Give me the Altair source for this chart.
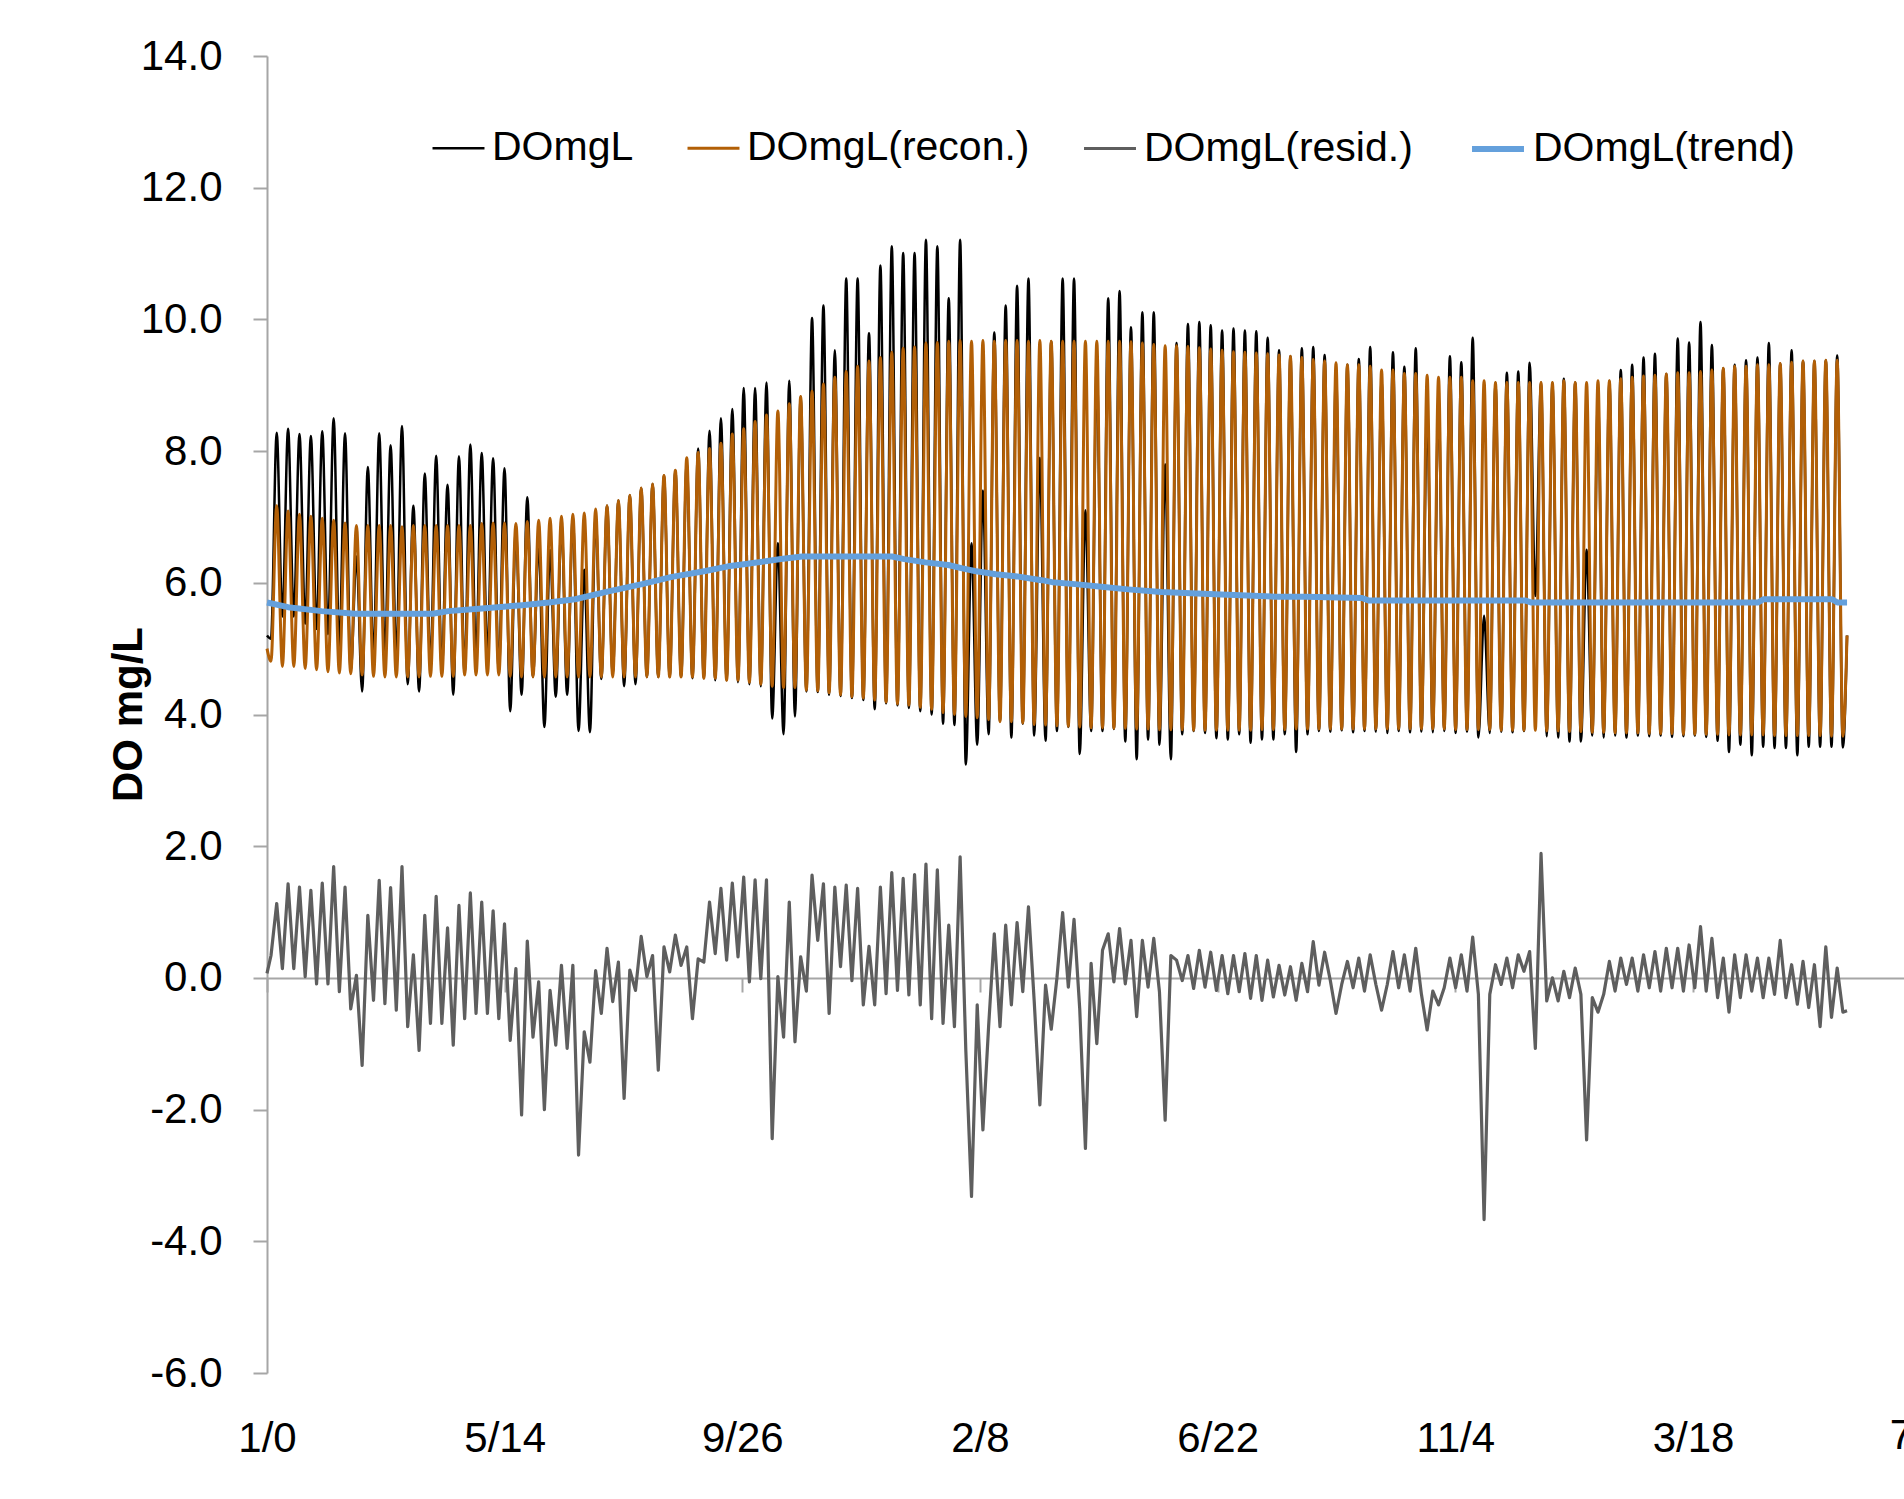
import altair as alt
import pandas as pd

# ---------------- values ----------------
TICK_DAYS = [0, 135, 270, 405, 540, 675, 810, 945]
TICK_LABELS = ["1/0", "5/14", "9/26", "2/8", "6/22", "11/4", "3/18", "7/31"]
Y_TICKS = [-6, -4, -2, 0, 2, 4, 6, 8, 10, 12, 14]

SERIES = ["DOmgL", "DOmgL(recon.)", "DOmgL(resid.)", "DOmgL(trend)"]

# timing of the oscillation (days)
FIRST_PEAK_DAY = 5.51
CYCLE_DAYS = 6.47
LAST_DAY = 897.5

# DOmgL(recon.)  -- one peak and the following trough per cycle
RECON_START, RECON_PRE, RECON_END = 5.00, 4.81, 5.20
RECON_PEAK = [
    7.17, 7.09, 7.04, 7.01, 6.98, 6.95, 6.91, 6.87, 6.87, 6.87, 6.87, 6.85, 6.87, 6.87, 6.87, 6.87, 6.87, 6.87, 6.90, 6.91, 6.91, 6.90,
    6.93, 6.95, 6.98, 7.01, 7.04, 7.06, 7.12, 7.17, 7.25, 7.33, 7.44, 7.50, 7.63, 7.71, 7.90, 7.98, 8.04, 8.12, 8.26, 8.34, 8.45, 8.55, 8.61,
    8.72, 8.83, 8.91, 9.02, 9.12, 9.21, 9.29, 9.37, 9.42, 9.50, 9.56, 9.58, 9.64, 9.65, 9.67, 9.68, 9.67, 9.68, 9.67, 9.68, 9.68, 9.67, 9.68,
    9.67, 9.67, 9.67, 9.67, 9.67, 9.67, 9.67, 9.66, 9.64, 9.62, 9.60, 9.60, 9.59, 9.57, 9.55, 9.53, 9.51, 9.50, 9.49, 9.48, 9.46, 9.44, 9.42,
    9.39, 9.37, 9.34, 9.31, 9.31, 9.29, 9.23, 9.23, 9.18, 9.18, 9.15, 9.12, 9.12, 9.12, 9.07, 9.07, 9.04, 9.04, 9.04, 9.04, 9.04, 9.04, 9.07,
    9.04, 9.04, 9.07, 9.07, 9.10, 9.12, 9.14, 9.15, 9.17, 9.19, 9.19, 9.21, 9.23, 9.26, 9.29, 9.29, 9.31, 9.31, 9.33, 9.35, 9.37, 9.37, 9.38, 9.38,
]
RECON_TROUGH = [
    4.73, 4.73, 4.70, 4.68, 4.65, 4.63, 4.62, 4.60, 4.58, 4.57, 4.57, 4.57, 4.57, 4.58, 4.58, 4.58, 4.60, 4.60, 4.60, 4.60, 4.58, 4.57,
    4.57, 4.57, 4.57, 4.57, 4.57, 4.57, 4.57, 4.57, 4.57, 4.57, 4.57, 4.57, 4.57, 4.57, 4.57, 4.55, 4.55, 4.52, 4.52, 4.49, 4.46, 4.43, 4.41,
    4.41, 4.37, 4.36, 4.33, 4.30, 4.27, 4.25, 4.22, 4.19, 4.16, 4.14, 4.11, 4.08, 4.03, 4.00, 3.97, 3.95, 3.92, 3.89, 3.89, 3.87, 3.85, 3.84,
    3.83, 3.82, 3.81, 3.80, 3.80, 3.79, 3.79, 3.78, 3.78, 3.77, 3.77, 3.77, 3.76, 3.76, 3.76, 3.76, 3.76, 3.76, 3.77, 3.77, 3.77, 3.78, 3.78,
    3.78, 3.78, 3.78, 3.78, 3.78, 3.78, 3.78, 3.78, 3.78, 3.78, 3.78, 3.78, 3.77, 3.77, 3.77, 3.77, 3.76, 3.76, 3.76, 3.76, 3.75, 3.75, 3.74,
    3.74, 3.73, 3.73, 3.72, 3.72, 3.72, 3.71, 3.71, 3.71, 3.70, 3.70, 3.70, 3.70, 3.69, 3.69, 3.69, 3.69, 3.68, 3.68, 3.68, 3.68, 3.68, 3.67, 3.67,
]

# DOmgL (observed)
OBS_START, OBS_PRE, OBS_END = 5.20, 5.15, 5.20
OBS_PEAK = [
    8.28, 8.34, 8.26, 8.23, 8.30, 8.50, 8.27, 6.40, 7.76, 8.27, 8.09, 8.38, 7.17, 7.66, 7.93, 7.49, 7.92, 8.10, 7.97, 7.89, 7.74, 6.80,
    7.30, 6.60, 6.50, 6.90, 7.00, 6.20, 7.00, 7.17, 7.25, 7.33, 7.44, 7.50, 7.63, 7.71, 7.82, 8.04, 8.31, 8.50, 8.64, 8.96, 8.96, 9.04, 6.60,
    9.07, 8.83, 10.02, 10.21, 9.53, 10.62, 10.62, 9.79, 10.82, 11.11, 11.01, 11.01, 11.21, 11.11, 10.32, 11.21, 6.60, 7.40, 9.80, 10.21, 10.51, 10.62, 7.90,
    9.67, 10.62, 10.62, 7.10, 9.30, 10.32, 10.43, 9.88, 10.11, 10.11, 7.80, 9.64, 9.93, 9.96, 9.91, 9.83, 9.86, 9.83, 9.82, 9.72, 9.53, 9.44, 9.56,
    9.58, 9.46, 9.20, 9.31, 9.40, 9.58, 9.10, 9.50, 9.28, 9.56, 8.60, 8.80, 9.44, 9.35, 9.72, 5.50, 9.04, 9.19, 9.21, 9.34, 9.04, 9.04, 9.10,
    9.04, 6.50, 8.80, 9.07, 9.23, 9.31, 9.42, 9.48, 9.17, 9.71, 9.65, 9.96, 9.61, 9.26, 9.31, 9.38, 9.42, 9.64, 9.33, 9.53, 9.37, 9.37, 9.38, 9.45,
]
OBS_TROUGH = [
    5.49, 5.49, 5.38, 5.30, 5.22, 5.00, 4.65, 4.35, 4.84, 4.89, 4.84, 4.46, 4.35, 4.73, 4.68, 4.30, 4.62, 4.87, 4.87, 4.65, 4.05, 4.30,
    4.57, 3.81, 4.27, 4.30, 3.75, 3.73, 4.54, 4.62, 4.43, 4.46, 4.57, 4.57, 4.57, 4.57, 4.55, 4.55, 4.52, 4.52, 4.49, 4.46, 4.43, 3.94, 3.70,
    3.97, 4.35, 4.34, 4.30, 4.28, 4.25, 4.22, 4.08, 4.17, 4.14, 4.10, 4.05, 4.00, 3.86, 3.84, 3.24, 3.54, 3.70, 3.90, 3.65, 3.86, 3.68, 3.60,
    3.75, 3.81, 3.40, 3.75, 3.75, 3.78, 3.59, 3.32, 3.62, 3.54, 3.32, 3.70, 3.75, 3.72, 3.64, 3.62, 3.70, 3.57, 3.62, 3.62, 3.70, 3.43, 3.70,
    3.75, 3.74, 3.76, 3.73, 3.75, 3.74, 3.72, 3.75, 3.73, 3.74, 3.73, 3.75, 3.72, 3.74, 3.65, 3.72, 3.74, 3.73, 3.75, 5.80, 3.67, 3.65, 3.59,
    3.59, 3.68, 3.65, 3.68, 3.65, 3.68, 3.67, 3.68, 3.66, 3.67, 3.68, 3.66, 3.60, 3.43, 3.54, 3.38, 3.51, 3.49, 3.49, 3.38, 3.51, 3.51, 3.51, 3.50,
]

# DOmgL(resid.)
RESID_START, RESID_PRE, RESID_END = 0.07, 0.34, -0.50
RESID_PEAK = [
    1.13, 1.43, 1.38, 1.33, 1.44, 1.69, 1.38, 0.04, 0.95, 1.48, 1.37, 1.69, 0.35, 0.95, 1.24, 0.76, 1.10, 1.29, 1.15, 1.02, 0.82, 0.14,
    0.56, -0.06, -0.19, 0.19, 0.19, -0.82, 0.11, 0.45, 0.24, 0.12, 0.63, 0.34, 0.47, 0.65, 0.47, 0.29, 1.15, 1.36, 1.44, 1.53, 1.49, 1.49, 0.02,
    1.15, 0.32, 1.56, 1.43, 1.38, 1.41, 1.36, 0.48, 1.38, 1.60, 1.51, 1.57, 1.73, 1.64, 0.80, 1.84, -3.32, -2.31, 0.67, 0.80, 0.84, 1.08, -1.93,
    -0.78, 0.99, 0.89, -2.59, -1.00, 0.67, 0.75, 0.57, 0.57, 0.60, -2.16, 0.27, 0.34, 0.42, 0.39, 0.34, 0.34, 0.37, 0.34, 0.27, 0.19, 0.17, 0.22,
    0.55, 0.39, -0.54, 0.25, 0.30, 0.35, -0.49, 0.40, 0.35, 0.45, -0.79, -0.41, 0.30, 0.35, 0.62, -3.67, 0.20, 0.30, 0.35, 0.40, 1.89, 0.00, 0.10,
    0.15, -2.46, -0.52, 0.25, 0.30, 0.30, 0.35, 0.40, 0.45, 0.45, 0.50, 0.78, 0.60, 0.30, 0.35, 0.35, 0.30, 0.30, 0.57, 0.20, 0.25, 0.20, 0.47, 0.15,
]
RESID_TROUGH = [
    0.14, 0.14, 0.02, -0.09, -0.09, -0.21, -0.47, -1.33, -0.34, -0.39, -0.49, -0.74, -1.10, -0.69, -0.69, -1.02, -0.62, -0.54, -0.54, -0.62, -0.95, -2.08,
    -0.90, -2.00, -1.02, -1.07, -2.69, -1.28, -0.54, -0.36, -1.83, -0.19, 0.02, -1.40, 0.09, 0.19, -0.62, 0.24, 0.37, 0.27, 0.32, -0.06, -0.01, -2.44, -0.90,
    -0.97, -0.20, 0.57, -0.54, 0.17, -0.04, -0.41, -0.41, -0.24, -0.19, -0.26, -0.41, -0.62, -0.69, -0.74, -1.10, -0.41, -0.74, -0.74, -0.41, -0.21, -0.34, -0.11,
    0.00, -0.14, -0.47, 0.22, 0.42, -0.06, -0.09, -0.59, -0.14, -0.21, 0.34, -0.04, -0.16, -0.14, -0.19, -0.24, -0.21, -0.31, -0.34, -0.29, -0.26, -0.34, -0.21,
    -0.11, -0.04, -0.10, -0.15, -0.20, -0.10, -0.10, -0.15, -0.20, -0.25, -0.20, -0.15, -0.15, -0.20, -0.25, -0.25, -0.10, -0.15, 0.10, -1.07, -0.35, -0.35, -0.30,
    -0.25, -0.30, -0.25, -0.20, -0.10, -0.20, -0.15, -0.20, -0.15, -0.20, -0.15, -0.20, -0.30, -0.52, -0.30, -0.20, -0.30, -0.25, -0.30, -0.40, -0.45, -0.74, -0.60, -0.52,
]

# DOmgL(trend)
TREND_DAY = [0, 12, 31, 50, 94, 103, 122, 145, 160, 175, 194, 213, 230, 249, 262, 273, 292, 304,
             355, 362, 374, 387, 395, 402, 414, 425, 440, 446, 459, 474, 489, 508, 535, 573, 590,
             622, 626, 715, 718, 847, 850, 889, 892, 897.5]
TREND_VAL = [5.70, 5.63, 5.57, 5.53, 5.53, 5.57, 5.61, 5.66, 5.70, 5.75, 5.87, 5.98, 6.09, 6.18, 6.25, 6.29, 6.36, 6.40,
             6.40, 6.36, 6.31, 6.27, 6.22, 6.18, 6.13, 6.10, 6.04, 6.01, 5.98, 5.94, 5.90, 5.86, 5.83, 5.79, 5.79,
             5.77, 5.73, 5.73, 5.70, 5.70, 5.75, 5.75, 5.70, 5.70]

COLORS = ["#000000", "#B25F06", "#5E5E5E", "#64A0DC"]
WIDTHS = [2.5, 3.0, 3.2, 6.0]


# ---------------- build the table ----------------
def cycle_rows(name, start, pre, peaks, troughs, end):
    rows = [(0.0, start, name), (FIRST_PEAK_DAY - CYCLE_DAYS / 2, pre, name)]
    for i, (p, t) in enumerate(zip(peaks, troughs)):
        rows.append((FIRST_PEAK_DAY + i * CYCLE_DAYS, p, name))
        rows.append((FIRST_PEAK_DAY + (i + 0.5) * CYCLE_DAYS, t, name))
    rows.append((LAST_DAY, end, name))
    return rows


rows = []
rows += cycle_rows(SERIES[0], OBS_START, OBS_PRE, OBS_PEAK, OBS_TROUGH, OBS_END)
rows += cycle_rows(SERIES[1], RECON_START, RECON_PRE, RECON_PEAK, RECON_TROUGH, RECON_END)
rows += cycle_rows(SERIES[2], RESID_START, RESID_PRE, RESID_PEAK, RESID_TROUGH, RESID_END)
rows += [(d, v, SERIES[3]) for d, v in zip(TREND_DAY, TREND_VAL)]
df = pd.DataFrame(rows, columns=["day", "value", "series"])

# ---------------- layout ----------------
PLOT_W, PLOT_H = 1637, 1317
PX_PER_DAY = 1.7605
X_MAX = PLOT_W / PX_PER_DAY
ZERO_OFFSET = -395  # x axis line sits at y = 0

FONT = "Liberation Sans"

label_expr = " : ".join(
    f"datum.value == {d} ? '{l}'" for d, l in zip(TICK_DAYS, TICK_LABELS)
) + " : ''"

x_scale = alt.Scale(domain=[0, X_MAX], nice=False, zero=False)
y_scale = alt.Scale(domain=[-6, 14], nice=False, zero=False)

x_enc = alt.X(
    "day:Q",
    scale=x_scale,
    axis=alt.Axis(
        values=TICK_DAYS, labelExpr=label_expr, orient="bottom", offset=ZERO_OFFSET,
        domainColor="#A6A6A6", domainWidth=2, tickColor="#A6A6A6", tickWidth=2, tickSize=14,
        labelPadding=426, labelFont=FONT, labelFontSize=42, labelColor="#000000",
        labelFlush=False, labelOverlap=False, grid=False, title=None,
    ),
)
y_enc = alt.Y(
    "value:Q",
    scale=y_scale,
    axis=alt.Axis(
        values=Y_TICKS,
        labelExpr="datum.value < 0 ? '-' + format(-datum.value, '.1f') : format(datum.value, '.1f')",
        domainColor="#A6A6A6", domainWidth=2, tickColor="#A6A6A6", tickWidth=2, tickSize=14,
        labelPadding=31, labelFont=FONT, labelFontSize=42, labelColor="#000000", grid=False,
        title="DO mg/L", titleFont=FONT, titleFontSize=42, titleFontWeight="bold", titleColor="#000000",
        titleX=-117, titleY=658, titleAngle=270, titleBaseline="bottom", titleAlign="center",
    ),
)

legend = alt.Legend(
    title=None, orient="none", legendX=164, legendY=64, direction="horizontal",
    symbolType="stroke", symbolSize=2700, labelFont=FONT, labelFontSize=41,
    labelColor="#000000", columnPadding=47, labelOffset=6, padding=0, labelLimit=1000,
)

color_enc = alt.Color("series:O", scale=alt.Scale(domain=SERIES, range=COLORS), legend=legend)
width_enc = alt.StrokeWidth(
    "series:O", scale=alt.Scale(type="ordinal", domain=SERIES, range=WIDTHS), legend=legend
)

base = alt.Chart(df)


def series_layer(idx, interp):
    name = SERIES[idx]
    return base.transform_filter(alt.datum.series == name).mark_line(
        interpolate=interp, strokeJoin="round", strokeWidth=WIDTHS[idx]
    ).encode(x=x_enc, y=y_enc, color=color_enc, strokeWidth=width_enc)


# the last date label sits past the right edge of the picture and is cut off there
edge_label = alt.Chart(pd.DataFrame({"day": [TICK_DAYS[-1]], "label": [TICK_LABELS[-1]]})).mark_text(
    font=FONT, fontSize=42, color="#000000", baseline="middle", align="center", dy=63, clip=False
).encode(x=alt.X("day:Q", scale=x_scale), y=alt.datum(-6), text="label:N")

chart = alt.layer(
    series_layer(0, "monotone"),
    series_layer(1, "monotone"),
    series_layer(2, "linear"),
    series_layer(3, "linear"),
    edge_label,
).properties(
    width=PLOT_W, height=PLOT_H,
    autosize=alt.AutoSizeParams(type="none"),
    padding={"left": 267, "top": 56, "right": 0, "bottom": 126},
    background="#FFFFFF",
).configure_view(stroke=None)

chart.save("out.html", embed_options={"renderer": "svg", "actions": False})
